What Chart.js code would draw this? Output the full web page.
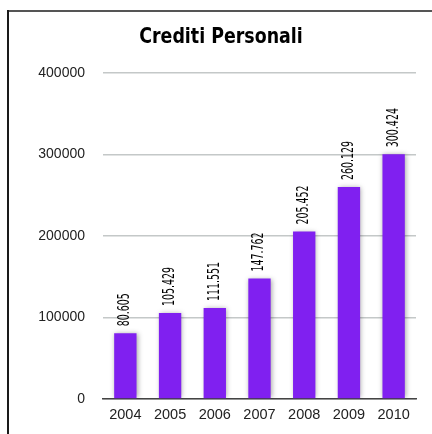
<!DOCTYPE html>
<html>
<head>
<meta charset="utf-8">
<script src="https://cdn.jsdelivr.net/npm/chart.js@4"></script>
<style>
    html, body { margin: 0; padding: 0; background: #fff; }
    #wrap { width: 432px; height: 434px; position: relative; }
</style>
</head>
<body>
<div id="wrap"><canvas id="creditiChart"></canvas></div>
<script>
// dati
const anni = ['2004', '2005', '2006', '2007', '2008', '2009', '2010'];
const crediti = [80605, 105429, 111551, 147762, 205452, 260129, 300424];
const yTicks = [0, 100000, 200000, 300000, 400000];
const titolo = 'Crediti Personali';

const narrow = "'DejaVu Sans Condensed', 'Liberation Sans Narrow', sans-serif";
const sans = "'Liberation Sans', Arial, sans-serif";

// 80605 -> "80.605"
const fmt = (v) => String(v).replace(/\B(?=(\d{3})+(?!\d))/g, '.');

// cornice in alto e a sinistra + titolo condensato
const frame = {
    id: 'frame',
    beforeDraw(chart) {
        const ctx = chart.ctx;
        ctx.save();
        ctx.lineWidth = 2;
        ctx.strokeStyle = '#555';
        ctx.beginPath();
        ctx.moveTo(7, 11);
        ctx.lineTo(432, 11);
        ctx.stroke();
        ctx.strokeStyle = '#1a1a1a';
        ctx.beginPath();
        ctx.moveTo(8, 10);
        ctx.lineTo(8, 434);
        ctx.stroke();

        ctx.translate(221, 37);
        ctx.scale(0.88, 1);
        ctx.font = 'bold 22px ' + narrow;
        ctx.fillStyle = '#000';
        ctx.textAlign = 'center';
        ctx.textBaseline = 'middle';
        ctx.fillText(titolo, 0, 0);
        ctx.restore();
    }
};

// ombra delle barre
const barShadow = {
    id: 'barShadow',
    beforeDatasetsDraw(chart) {
        const ctx = chart.ctx;
        ctx.save();
        ctx.shadowColor = 'rgba(0,0,0,0.35)';
        ctx.shadowBlur = 5;
        ctx.shadowOffsetX = 1;
        ctx.shadowOffsetY = 0;
    },
    afterDatasetsDraw(chart) {
        chart.ctx.restore();
    }
};

// etichette verticali sopra le barre
const valueLabels = {
    id: 'valueLabels',
    afterDatasetsDraw(chart) {
        const ctx = chart.ctx;
        const meta = chart.getDatasetMeta(0);
        ctx.save();
        ctx.font = '15px ' + narrow;
        ctx.fillStyle = '#000';
        ctx.textAlign = 'left';
        ctx.textBaseline = 'middle';
        meta.data.forEach((bar, i) => {
            ctx.save();
            ctx.translate(bar.x, bar.y - 7);
            ctx.rotate(-Math.PI / 2);
            ctx.scale(0.7, 1);
            ctx.fillText(fmt(crediti[i]), 0, 0);
            ctx.restore();
        });
        ctx.restore();
    }
};

const ctx = document.getElementById('creditiChart').getContext('2d');
new Chart(ctx, {
    type: 'bar',
    data: {
        labels: anni,
        datasets: [{
            label: titolo,
            data: crediti,
            backgroundColor: '#8020f0',
            borderWidth: 0,
            barPercentage: 0.5,
            categoryPercentage: 1.0
        }]
    },
    options: {
        responsive: true,
        maintainAspectRatio: false,
        animation: false,
        layout: { padding: { top: 73, right: 16, bottom: 0, left: 0 } },
        plugins: {
            legend: { display: false },
            tooltip: { enabled: false },
            title: { display: false }
        },
        scales: {
            x: {
                grid: { display: false, drawTicks: false },
                border: { display: true, color: '#444', width: 1.5 },
                ticks: {
                    color: '#222',
                    font: { family: sans, size: 14.5 },
                    padding: 7,
                    maxRotation: 0
                },
                afterFit: (scale) => { scale.height = 35; }
            },
            y: {
                min: 0,
                max: 400000,
                afterBuildTicks: (scale) => {
                    scale.ticks = yTicks.map(v => ({ value: v }));
                },
                grid: { color: '#c4c8c8', lineWidth: 1.5, drawTicks: false },
                border: { display: false },
                ticks: {
                    color: '#222',
                    font: { family: sans, size: 14 },
                    padding: 18,
                    callback: (v) => String(v)
                },
                afterFit: (scale) => { scale.width = 103; }
            }
        }
    },
    plugins: [frame, barShadow, valueLabels]
});
</script>
</body>
</html>
